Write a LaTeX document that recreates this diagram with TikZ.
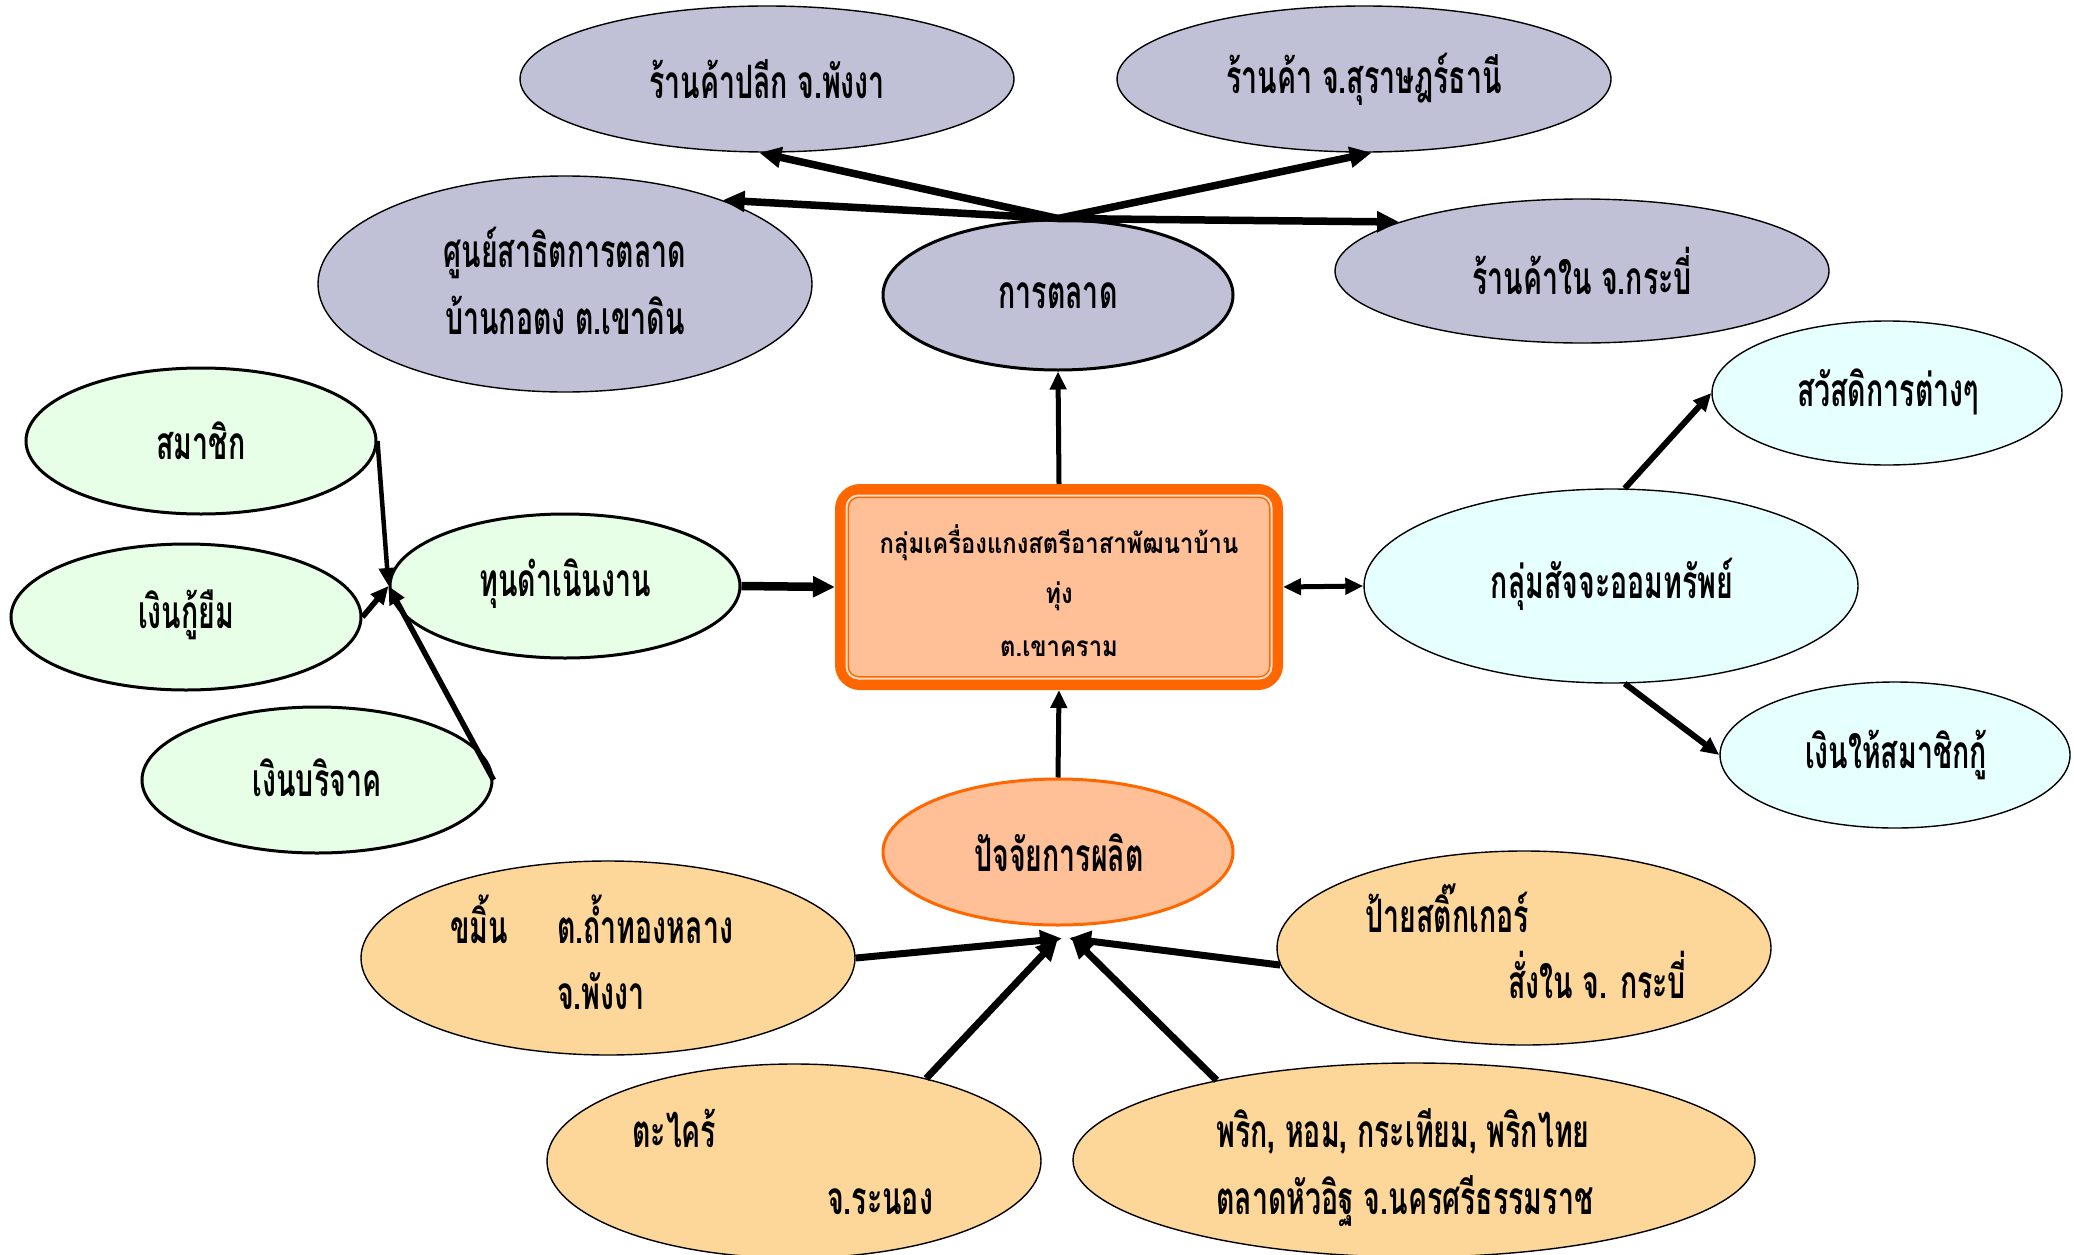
\documentclass[tikz,border=0pt]{standalone}
\usepackage{fontspec}
\usetikzlibrary{shapes.geometric,arrows.meta}
\newfontfamily\thai[Script=Thai,FakeStretch=0.62]{Loma}
\newfontfamily\thaibox[Script=Thai,FakeStretch=0.85]{Loma}
\definecolor{lav}{RGB}{192,192,214}
\definecolor{mint}{RGB}{230,255,230}
\definecolor{aqua}{RGB}{230,255,255}
\definecolor{peach}{RGB}{255,192,152}
\definecolor{sand}{RGB}{253,214,153}
\definecolor{orng}{RGB}{255,102,0}
\definecolor{palebd}{RGB}{255,222,200}
\begin{document}
\begin{tikzpicture}[x=1pt,y=-1pt,
  ell/.style={ellipse, draw=black, line width=1.4pt, inner sep=0pt},
  thick ell/.style={ell, line width=3pt},
  txt/.style={font=\thai\bfseries\fontsize{46}{66}\selectfont, inner sep=0pt, align=center},
  boxtxt/.style={font=\thaibox\bfseries\fontsize{28}{51}\selectfont, inner sep=0pt, align=center},
  arr/.style={line width=#1, -{Triangle[length=22pt,width=20pt]}},
  arrs/.style={line width=#1, -{Triangle[length=18pt,width=16pt]}},
]
\useasboundingbox (0,0) rectangle (2074,1255);

% marketing group
\node[ell, fill=lav, minimum width=494pt, minimum height=146pt] (retail) at (767,79) {};
\node[ell, fill=lav, minimum width=494pt, minimum height=146pt] (surat) at (1364,79) {};
\node[ell, fill=lav, minimum width=494pt, minimum height=216pt] (demo) at (565,284) {};
\node[thick ell, fill=lav, minimum width=350pt, minimum height=150pt] (mkt) at (1058,295) {};
\node[ell, fill=lav, minimum width=494pt, minimum height=144pt] (krabi) at (1582,271) {};

% capital group
\node[thick ell, fill=mint, minimum width=350pt, minimum height=146pt] (member) at (201,441) {};
\node[thick ell, fill=mint, minimum width=350pt, minimum height=146pt] (borrow) at (186,617) {};
\node[thick ell, fill=mint, minimum width=350pt, minimum height=146pt] (donate) at (317,780) {};
\node[thick ell, fill=mint, minimum width=350pt, minimum height=144pt] (fund) at (565,586) {};

% savings group
\node[ell, fill=aqua, minimum width=494pt, minimum height=194pt] (saving) at (1611,586) {};
\node[ell, fill=aqua, minimum width=350pt, minimum height=144pt] (welfare) at (1887,393) {};
\node[ell, fill=aqua, minimum width=350pt, minimum height=146pt] (lend) at (1895,755) {};

% production group
\node[ell, draw=orng, line width=3pt, fill=peach, minimum width=350pt, minimum height=146pt] (factor) at (1058,852) {};
\node[ell, fill=sand, minimum width=494pt, minimum height=194pt] (kamin) at (608,958) {};
\node[ell, fill=sand, minimum width=494pt, minimum height=194pt] (sticker) at (1524,948) {};
\node[ell, fill=sand, minimum width=494pt, minimum height=194pt] (takrai) at (794,1161) {};
\node[ell, fill=sand, minimum width=682pt, minimum height=194pt] (prik) at (1414,1160) {};

% central box
\node[draw=orng, line width=10pt, fill=peach, rounded corners=20pt, minimum width=438pt, minimum height=196pt] (box) at (1059,587) {};
\node[draw=orng, line width=1.5pt, double=palebd, double distance=2pt, rounded corners=12pt, minimum width=425pt, minimum height=183pt] (boxin) at (1059,587) {};

% texts
\node[txt] (t-retail) at (767,79) {ร้านค้าปลีก จ.พังงา};
\node[txt] (t-surat) at (1364,79) {ร้านค้า จ.สุราษฎร์ธานี};
\node[txt, anchor=base] (t-demo1) at (565,267) {ศูนย์สาธิตการตลาด};
\node[txt, anchor=base] (t-demo2) at (565,334) {บ้านกอตง ต.เขาดิน};
\node[txt] (t-mkt) at (1058,296) {การตลาด};
\node[txt] (t-krabi) at (1582,271) {ร้านค้าใน จ.กระบี่};
\node[txt] (t-member) at (201,441) {สมาชิก};
\node[txt] (t-borrow) at (186,615) {เงินกู้ยืม};
\node[txt] (t-donate) at (317,778) {เงินบริจาค};
\node[txt] (t-fund) at (565,584) {ทุนดำเนินงาน};
\node[txt] (t-saving) at (1612,584) {กลุ่มสัจจะออมทรัพย์};
\node[txt] (t-welfare) at (1888,392) {สวัสดิการต่างๆ};
\node[txt] (t-lend) at (1896,755) {เงินให้สมาชิกกู้};
\node[txt] (t-factor) at (1059,853) {ปัจจัยการผลิต};
\node[txt, anchor=base west] (t-kamin1) at (450,943) {ขมิ้น};
\node[txt, anchor=base west] (t-kamin2) at (557,943) {ต.ถ้ำทองหลาง};
\node[txt, anchor=base west] (t-kamin3) at (557,1009) {จ.พังงา};
\node[txt, anchor=base west] (t-sticker1) at (1365,932) {ป้ายสติ๊กเกอร์};
\node[txt, anchor=base west] (t-sticker2) at (1508,998) {สั่งใน จ. กระบี่};
\node[txt, anchor=base west] (t-takrai1) at (632,1147) {ตะไคร้};
\node[txt, anchor=base west] (t-takrai2) at (827,1214) {จ.ระนอง};
\node[txt, anchor=base west] (t-prik1) at (1216,1147) {พริก, หอม, กระเทียม, พริกไทย};
\node[txt, anchor=base west] (t-prik2) at (1216,1214) {ตลาดหัวอิฐ จ.นครศรีธรรมราช};
\node[boxtxt, anchor=base] (t-box1) at (1059,553) {กลุ่มเครื่องแกงสตรีอาสาพัฒนาบ้าน};
\node[boxtxt, anchor=base] (t-box2) at (1059,603) {ทุ่ง};
\node[boxtxt, anchor=base] (t-box3) at (1059,656) {ต.เขาคราม};

% connectors: marketing
\draw[arr=7.5pt] (mkt.north) -- (retail.-96);
\draw[arr=7.5pt] (mkt.north) -- (surat.-84);
\draw[arr=7.5pt] (mkt.north) -- (demo.28);
\draw[arr=7.5pt] (mkt.north) -- (krabi.165);
\draw[arrs=5pt] (box.north) -- (mkt.south);

% capital
\draw[arrs=4.5pt] (member.east) -- (fund.west);
\draw[arrs=5.5pt] (borrow.east) -- (fund.west);
\draw[arrs=5.5pt] (donate.east) -- (fund.west);
\draw[arr=8.5pt] (fund.east) -- (box.west);

% savings
\draw[line width=5pt, {Triangle[length=18pt,width=16pt]}-{Triangle[length=18pt,width=16pt]}] (box.east) -- (saving.west);
\draw[arrs=6pt] (saving.82) -- (welfare.west);
\draw[arrs=6pt] (saving.-82) -- (lend.west);

% production
\draw[arrs=5pt] (factor.north) -- (box.south);
\coordinate (pin) at ([yshift=-12pt]factor.south);
\draw[arr=7pt] (kamin.east) -- ([xshift=4pt]pin);
\draw[arr=7pt] (sticker.184) -- ([xshift=11pt]pin);
\draw[arr=7pt] (takrai.32) -- (pin);
\draw[arr=7pt] (prik.158) -- ([xshift=13pt,yshift=2pt]pin);
\end{tikzpicture}
\end{document}
